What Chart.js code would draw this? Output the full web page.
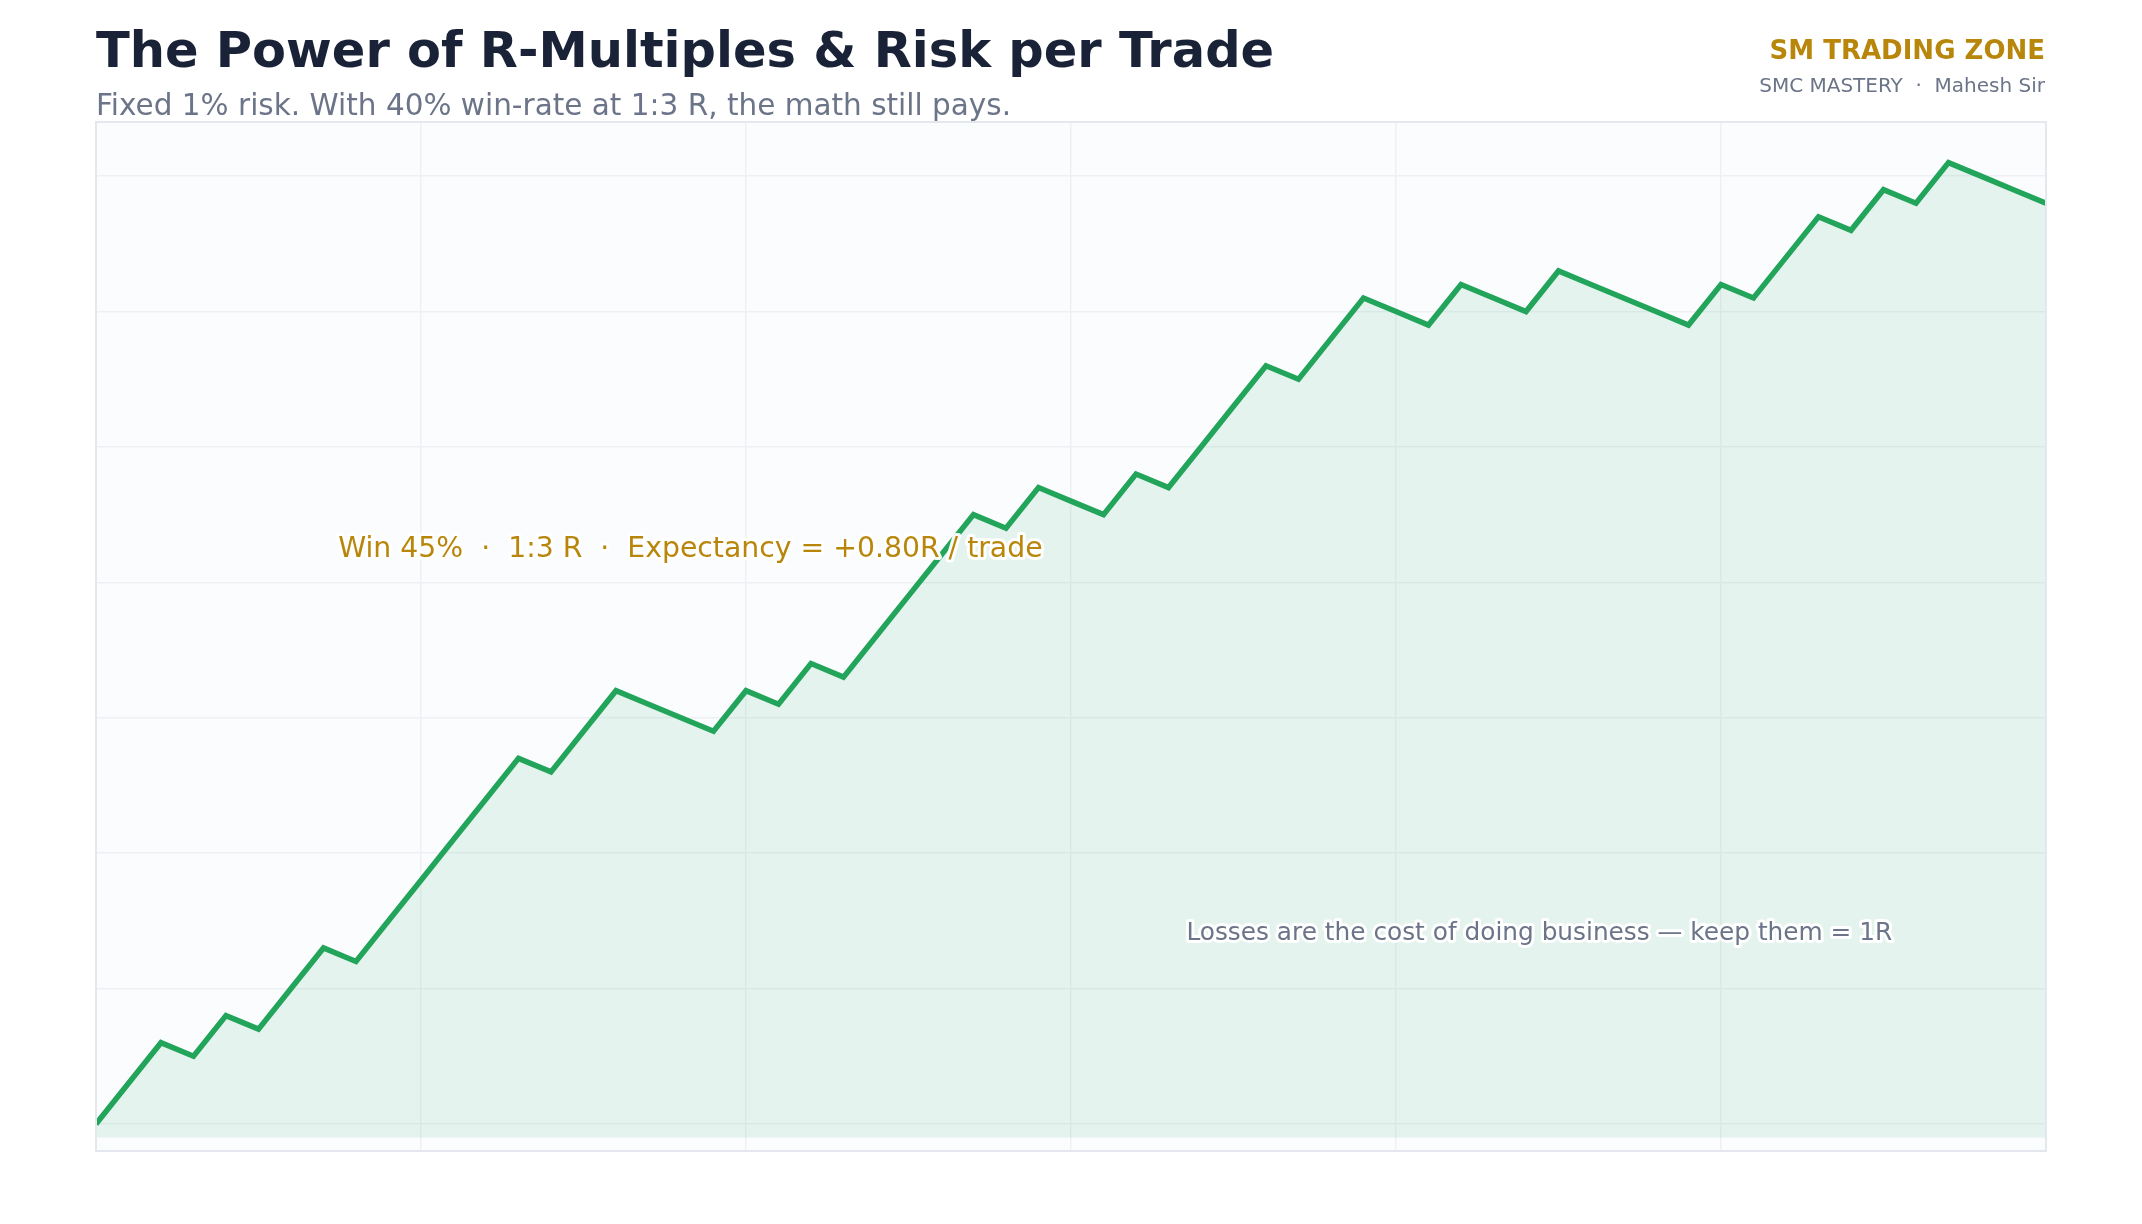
<!DOCTYPE html>
<html>
<head>
<meta charset="utf-8">
<script src="https://cdn.jsdelivr.net/npm/chart.js@4.4.1/dist/chart.umd.min.js"></script>
<style>
  html, body { margin: 0; padding: 0; background: #ffffff; }
  canvas { display: block; }
</style>
</head>
<body>
<canvas id="chart" width="2142" height="1224"></canvas>
<script>
// trade number and running total in R (win = +3R, loss = -1R)
const tradeNo = [];
for (let i = 0; i <= 60; i++) tradeNo.push(i);
const cumR = [
  0, 3, 6, 5, 8, 7, 10, 13, 12, 15,
  18, 21, 24, 27, 26, 29, 32, 31, 30, 29,
  32, 31, 34, 33, 36, 39, 42, 45, 44, 47,
  46, 45, 48, 47, 50, 53, 56, 55, 58, 61,
  60, 59, 62, 61, 60, 63, 62, 61, 60, 59,
  62, 61, 64, 67, 66, 69, 68, 71, 70, 69,
  68
];
const xTicks = [0, 10, 20, 30, 40, 50, 60];
const yTicks = [0, 10, 20, 30, 40, 50, 60, 70];

const titleText = 'The Power of R-Multiples & Risk per Trade';
const subtitleText = 'Fixed 1% risk. With 40% win-rate at 1:3 R, the math still pays.';
const brandText = 'SM TRADING ZONE';
const brandSub = 'SMC MASTERY  \u00b7  Mahesh Sir';
const noteTop = 'Win 45%  \u00b7  1:3 R  \u00b7  Expectancy = +0.80R / trade';
const noteBottom = 'Losses are the cost of doing business \u2014 keep them = 1R';

const FONT = '"DejaVu Sans", sans-serif';

const plotFrame = {
  id: 'plotFrame',
  beforeDraw(chart) {
    const { ctx, chartArea: a } = chart;
    ctx.save();
    ctx.fillStyle = '#fbfcfe';
    ctx.fillRect(a.left, a.top, a.right - a.left, a.bottom - a.top);
    ctx.restore();
  },
  afterDraw(chart) {
    const { ctx, chartArea: a, scales } = chart;
    ctx.save();
    ctx.strokeStyle = '#e4e7ee';
    ctx.lineWidth = 2;
    ctx.strokeRect(a.left, a.top, a.right - a.left, a.bottom - a.top);

    // header
    ctx.textBaseline = 'alphabetic';
    ctx.textAlign = 'left';
    ctx.fillStyle = '#1a2238';
    ctx.font = 'bold 49.5px ' + FONT;
    ctx.fillText(titleText, 96, 67);
    ctx.fillStyle = '#6b7488';
    ctx.font = '29.5px ' + FONT;
    ctx.fillText(subtitleText, 96, 115);

    ctx.textAlign = 'right';
    ctx.fillStyle = '#b8860b';
    ctx.font = 'bold 26px ' + FONT;
    ctx.fillText(brandText, 2045, 59);
    ctx.fillStyle = '#6b7488';
    ctx.font = '20px ' + FONT;
    ctx.fillText(brandSub, 2045, 92);

    // annotations with white halo
    const x = scales.x, y = scales.y;
    const halo = (txt, px, py, color, size) => {
      ctx.font = size + 'px ' + FONT;
      ctx.textAlign = 'left';
      ctx.textBaseline = 'alphabetic';
      ctx.lineJoin = 'round';
      ctx.lineWidth = 6;
      ctx.strokeStyle = 'rgba(255,255,255,0.95)';
      ctx.strokeText(txt, px, py);
      ctx.fillStyle = color;
      ctx.fillText(txt, px, py);
    };
    halo(noteTop, x.getPixelForValue(7.45), y.getPixelForValue(41.9), '#b8860b', 28.3);
    halo(noteBottom, x.getPixelForValue(33.55), y.getPixelForValue(13.6), '#6b7488', 24.8);
    ctx.restore();
  }
};

new Chart(document.getElementById('chart'), {
  type: 'line',
  data: {
    datasets: [{
      data: tradeNo.map((t, i) => ({ x: t, y: cumR[i] })),
      borderColor: '#22a55b',
      borderWidth: 5.5,
      borderJoinStyle: 'miter',
      pointRadius: 0,
      tension: 0,
      fill: { value: -1 },
      backgroundColor: 'rgba(34,165,91,0.1)',
      clip: 0
    }]
  },
  options: {
    responsive: false,
    animation: false,
    devicePixelRatio: 1,
    layout: { padding: { left: 96, right: 96, top: 122, bottom: 73 } },
    plugins: { legend: { display: false }, tooltip: { enabled: false } },
    scales: {
      x: {
        type: 'linear', min: 0, max: 60,
        afterBuildTicks: (axis) => { axis.ticks = xTicks.map(v => ({ value: v })); },
        ticks: { display: false },
        grid: { color: '#eef0f4', lineWidth: 1.5, drawTicks: false },
        border: { display: false }
      },
      y: {
        type: 'linear', min: -2, max: 74,
        afterBuildTicks: (axis) => { axis.ticks = yTicks.map(v => ({ value: v })); },
        ticks: { display: false },
        grid: { color: '#eef0f4', lineWidth: 1.5, drawTicks: false },
        border: { display: false }
      }
    }
  },
  plugins: [plotFrame]
});
</script>
</body>
</html>
